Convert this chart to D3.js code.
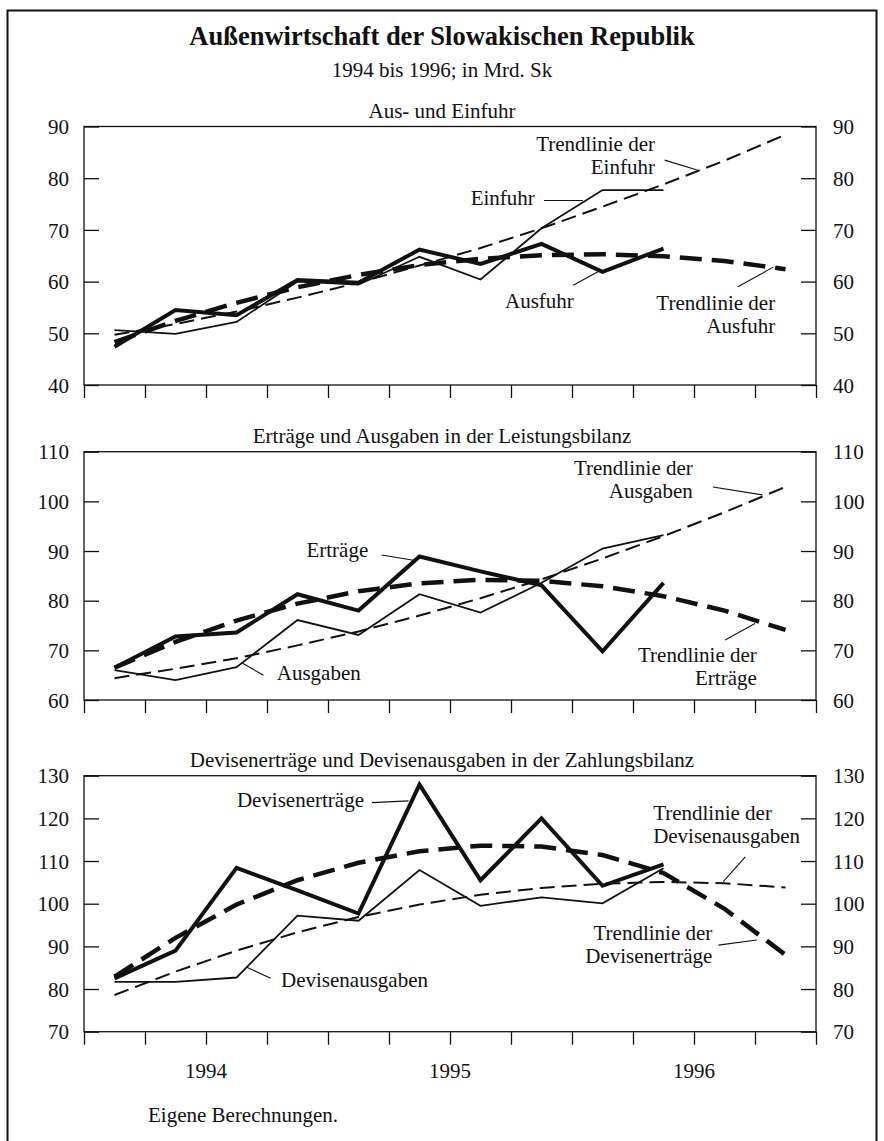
<!DOCTYPE html>
<html>
<head>
<meta charset="utf-8">
<script src="https://cdn.jsdelivr.net/npm/d3@7"></script>
<style>
  body { margin: 0; background: #fff; }
  svg text { font-family: "Liberation Serif", "Times New Roman", serif; fill: #111; }
</style>
</head>
<body>
<div id="chart"></div>
<script>
// --- Data (quarterly, 1994 Q1 .. 1996 Q4; in Mrd. Sk) ---
const quarters = ["1994 Q1", "1994 Q2", "1994 Q3", "1994 Q4",
                  "1995 Q1", "1995 Q2", "1995 Q3", "1995 Q4",
                  "1996 Q1", "1996 Q2", "1996 Q3", "1996 Q4"];
const years = ["1994", "1995", "1996"];

// Aus- und Einfuhr
const einfuhr      = [50.6, 49.9, 52.2, 60.0, 59.4, 64.8, 60.4, 70.3, 77.7, 77.7];
const ausfuhr      = [47.4, 54.5, 53.5, 60.3, 59.8, 66.2, 63.4, 67.3, 61.9, 66.4];
const einfuhrTrend = [49.7, 51.8, 54.2, 56.9, 59.8, 63.1, 66.5, 70.3, 74.5, 78.8, 83.4, 88.4];
const ausfuhrTrend = [48.3, 52.4, 55.9, 58.9, 61.3, 63.2, 64.4, 65.1, 65.3, 64.9, 64.0, 62.4];
const ticksAussen  = [40, 50, 60, 70, 80, 90];

// Erträge und Ausgaben in der Leistungsbilanz
const ertraege      = [66.5, 72.8, 73.6, 81.3, 78.0, 88.9, 85.9, 83.1, 69.8, 83.6];
const ausgaben      = [66.0, 64.0, 66.6, 76.1, 73.1, 81.3, 77.6, 83.6, 90.5, 93.2];
const ertraegeTrend = [66.5, 71.7, 76.0, 79.4, 81.9, 83.5, 84.2, 84.0, 82.9, 80.9, 78.0, 74.1];
const ausgabenTrend = [64.4, 66.3, 68.4, 71.0, 73.8, 77.0, 80.5, 84.3, 88.5, 93.0, 97.8, 102.9];
const ticksLeistung = [60, 70, 80, 90, 100, 110];

// Devisenerträge und Devisenausgaben in der Zahlungsbilanz
const devisenErtraege      = [82.5, 89.0, 108.4, 103.1, 97.7, 127.9, 105.5, 120.0, 104.2, 109.2];
const devisenAusgaben      = [81.7, 81.7, 82.7, 97.2, 96.0, 107.9, 99.5, 101.5, 100.1, 108.3];
const devisenErtraegeTrend = [82.9, 92.0, 99.8, 105.5, 109.6, 112.3, 113.6, 113.4, 111.4, 107.2, 98.8, 88.0];
const devisenAusgabenTrend = [78.6, 84.1, 89.0, 93.3, 96.9, 99.8, 102.1, 103.7, 104.7, 105.1, 104.8, 103.8];
const ticksZahlung = [70, 80, 90, 100, 110, 120, 130];

// --- Layout ---
const width = 884;
const height = 1141;
const plotLeft = 84;
const plotRight = 816;
const fontSize = 21;
const lineHeight = 23;

const svg = d3.select("#chart").append("svg")
    .attr("width", width)
    .attr("height", height);

// Outer frame (bottom edge runs off the page)
svg.append("rect")
    .attr("x", 7.5).attr("y", 10.5)
    .attr("width", 869).attr("height", 1200)
    .attr("fill", "none")
    .attr("stroke", "#111")
    .attr("stroke-width", 2);

svg.append("text")
    .attr("x", width / 2).attr("y", 45)
    .attr("text-anchor", "middle")
    .attr("font-size", 26.5)
    .attr("font-weight", "bold")
    .text("Außenwirtschaft der Slowakischen Republik");

svg.append("text")
    .attr("x", width / 2).attr("y", 77)
    .attr("text-anchor", "middle")
    .attr("font-size", fontSize)
    .text("1994 bis 1996; in Mrd. Sk");

const x = d3.scaleLinear()
    .domain([0, quarters.length])
    .range([plotLeft, plotRight]);

const thin = { width: 1.8, dash: null };
const thick = { width: 4, dash: null };
const thinDash = { width: 2, dash: "15,7" };
const thickDash = { width: 4.5, dash: "22,10" };

const panels = [
    {
        title: "Aus- und Einfuhr",
        top: 126.5, bottom: 385,
        ticks: ticksAussen,
        series: [
            { values: einfuhrTrend, style: thinDash },
            { values: ausfuhrTrend, style: thickDash },
            { values: einfuhr, style: thin },
            { values: ausfuhr, style: thick }
        ],
        notes: [
            { text: ["Trendlinie der", "Einfuhr"], at: [9.36, 85.3], anchor: "end", leader: [[9.52, 83.5], [10.05, 81.6]] },
            { text: ["Einfuhr"], at: [7.39, 74.8], anchor: "end", leader: [[7.54, 75.7], [8.18, 75.7]] },
            { text: ["Ausfuhr"], at: [8.03, 54.8], anchor: "end", leader: [[8.02, 59.3], [8.47, 62.2]] },
            { text: ["Trendlinie der", "Ausfuhr"], at: [11.33, 54.5], anchor: "end", leader: [[10.72, 59.0], [11.3, 62.8]] }
        ]
    },
    {
        title: "Erträge und Ausgaben in der Leistungsbilanz",
        top: 451.7, bottom: 700,
        ticks: ticksLeistung,
        series: [
            { values: ausgabenTrend, style: thinDash },
            { values: ertraegeTrend, style: thickDash },
            { values: ausgaben, style: thin },
            { values: ertraege, style: thick }
        ],
        notes: [
            { text: ["Trendlinie der", "Ausgaben"], at: [9.98, 105.4], anchor: "end", leader: [[10.31, 102.9], [11.12, 101.3]] },
            { text: ["Erträge"], at: [4.66, 88.7], anchor: "end", leader: [[4.88, 89.2], [5.45, 88.05]] },
            { text: ["Ausgaben"], at: [3.16, 64.0], anchor: "start", leader: [[2.94, 65.0], [2.60, 67.4]] },
            { text: ["Trendlinie der", "Erträge"], at: [11.03, 67.7], anchor: "end", leader: [[10.51, 72.1], [11.0, 75.4]] }
        ]
    },
    {
        title: "Devisenerträge und Devisenausgaben in der Zahlungsbilanz",
        top: 775.7, bottom: 1031.7,
        ticks: ticksZahlung,
        series: [
            { values: devisenAusgabenTrend, style: thinDash },
            { values: devisenErtraegeTrend, style: thickDash },
            { values: devisenAusgaben, style: thin },
            { values: devisenErtraege, style: thick }
        ],
        notes: [
            { text: ["Devisenerträge"], at: [4.59, 122.7], anchor: "end", leader: [[4.72, 123.7], [5.32, 124.1]] },
            { text: ["Devisenausgaben"], at: [3.23, 80.5], anchor: "start", leader: [[3.06, 82.5], [2.67, 85.1]] },
            { text: ["Trendlinie der", "Devisenausgaben"], at: [9.33, 119.6], anchor: "start", leader: [[10.84, 111.0], [10.48, 105.2]] },
            { text: ["Trendlinie der", "Devisenerträge"], at: [10.3, 91.5], anchor: "end", leader: [[10.4, 90.3], [11.03, 91.5]] }
        ],
        years: true
    }
];

function drawPanel(p) {
    const y = d3.scaleLinear()
        .domain(d3.extent(p.ticks))
        .range([p.bottom, p.top]);

    const g = svg.append("g");

    g.append("text")
        .attr("x", width / 2)
        .attr("y", p.top - 9)
        .attr("text-anchor", "middle")
        .attr("font-size", fontSize)
        .text(p.title);

    // Left and right value axes, ticks pointing inward
    const left = g.append("g")
        .attr("transform", `translate(${plotLeft},0)`)
        .call(d3.axisLeft(y).tickValues(p.ticks).tickSizeInner(-15).tickSizeOuter(0).tickPadding(15));
    const right = g.append("g")
        .attr("transform", `translate(${plotRight},0)`)
        .call(d3.axisRight(y).tickValues(p.ticks).tickSizeInner(-15).tickSizeOuter(0).tickPadding(17));

    [left, right].forEach(a => {
        a.select(".domain").remove();
        a.attr("font-family", null).attr("font-size", null);
        a.selectAll("line").attr("stroke", "#111").attr("stroke-width", 1.3);
        a.selectAll("text").attr("font-size", fontSize).attr("dy", "0.34em");
    });

    // Quarter ticks below the plot
    const bottom = g.append("g")
        .attr("transform", `translate(0,${p.bottom})`)
        .call(d3.axisBottom(x).tickValues(d3.range(quarters.length + 1)).tickSize(13).tickFormat(""));
    bottom.select(".domain").remove();
    bottom.selectAll("line").attr("stroke", "#111").attr("stroke-width", 1.3);

    // Frame
    g.append("rect")
        .attr("x", plotLeft).attr("y", p.top)
        .attr("width", plotRight - plotLeft)
        .attr("height", p.bottom - p.top)
        .attr("fill", "none")
        .attr("stroke", "#111")
        .attr("stroke-width", 1.3);

    const line = d3.line()
        .x((d, i) => x(i + 0.5))
        .y(d => y(d));

    g.append("g")
        .attr("fill", "none")
        .attr("stroke", "#111")
        .attr("stroke-linejoin", "miter")
        .selectAll("path")
        .data(p.series)
        .join("path")
        .attr("stroke-width", d => d.style.width)
        .attr("stroke-dasharray", d => d.style.dash)
        .attr("d", d => line(d.values));

    // Labels with leader lines
    const notes = g.append("g");
    notes.selectAll("line")
        .data(p.notes)
        .join("line")
        .attr("x1", d => x(d.leader[0][0]))
        .attr("y1", d => y(d.leader[0][1]))
        .attr("x2", d => x(d.leader[1][0]))
        .attr("y2", d => y(d.leader[1][1]))
        .attr("stroke", "#111")
        .attr("stroke-width", 1.1);

    notes.selectAll("text")
        .data(p.notes)
        .join("text")
        .attr("x", d => x(d.at[0]))
        .attr("y", d => y(d.at[1]))
        .attr("text-anchor", d => d.anchor)
        .attr("font-size", fontSize)
        .selectAll("tspan")
        .data(d => d.text.map(t => ({ t, x: x(d.at[0]) })))
        .join("tspan")
        .attr("x", d => d.x)
        .attr("dy", (d, i) => i === 0 ? 0 : lineHeight)
        .text(d => d.t);

    if (p.years) {
        g.append("g")
            .selectAll("text")
            .data(years)
            .join("text")
            .attr("x", (d, i) => x(i * 4 + 2))
            .attr("y", p.bottom + 46)
            .attr("text-anchor", "middle")
            .attr("font-size", fontSize)
            .text(d => d);
    }
}

panels.forEach(drawPanel);

svg.append("text")
    .attr("x", 148).attr("y", 1122)
    .attr("font-size", fontSize)
    .text("Eigene Berechnungen.");
</script>
</body>
</html>
